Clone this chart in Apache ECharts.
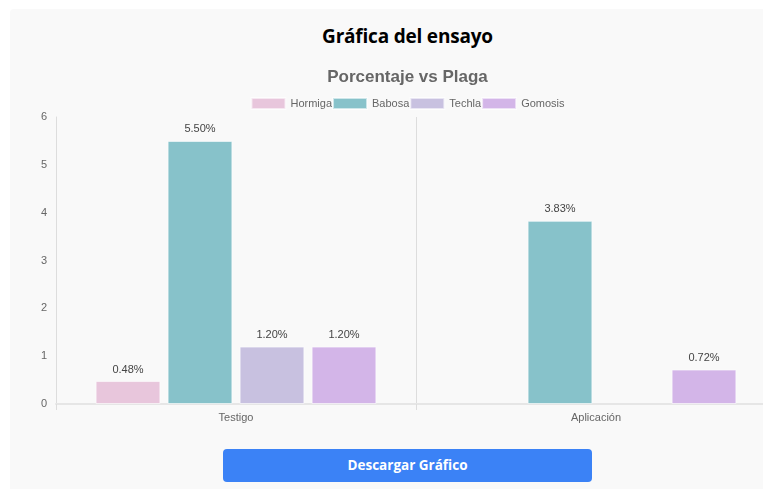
<!DOCTYPE html>
<html>
<head>
<meta charset="utf-8">
<script src="https://cdn.jsdelivr.net/npm/echarts@6/dist/echarts.min.js"></script>
<style>
  html, body { margin: 0; padding: 0; background: #ffffff; overflow: hidden; }
  body { width: 763px; height: 489px; position: relative; }
  .card {
    position: absolute; left: 10px; top: 9px; width: 795px; height: 520px;
    background: #f9f9f9; border-radius: 4px;
  }
  .card h2 {
    position: absolute; left: 0; right: 0; top: 14px; margin: 0;
    text-align: center; font-family: "Open Sans", "Noto Sans", sans-serif;
    font-weight: 700; font-size: 19px; color: #000; letter-spacing: -0.2px;
  }
  #chart { position: absolute; left: 0; top: 51px; width: 795px; height: 375px; }
  .btn {
    position: absolute; left: 213px; top: 440px; width: 369px; height: 33px;
    background: #3b82f6; border-radius: 4px; color: #fff; border: none;
    font-family: "Open Sans", "Noto Sans", sans-serif; font-weight: 700; font-size: 13.5px;
    line-height: 33px; text-align: center;
  }
</style>
</head>
<body>
<div class="card">
  <h2>Gráfica del ensayo</h2>
  <div id="chart"></div>
  <div class="btn">Descargar Gráfico</div>
</div>
<script>
// Ensayo: porcentaje de incidencia por plaga
const categories = ['Testigo', 'Aplicación'];
const plagas = ['Hormiga', 'Babosa', 'Techla', 'Gomosis'];
const hormiga = [0.48, null];
const babosa = [5.50, 3.83];
const techla = [1.20, null];
const gomosis = [1.20, 0.72];
const yTicks = [0, 1, 2, 3, 4, 5, 6];

const colores = ['#e8c6dc', '#87c2ca', '#c8c1e0', '#d3b5e8'];
const valores = [hormiga, babosa, techla, gomosis];

const chart = echarts.init(document.getElementById('chart'), null, { renderer: 'canvas' });

const series = plagas.map((name, i) => ({
  name,
  type: 'bar',
  data: valores[i],
  barWidth: 64.8,
  barGap: '11.11%',
  itemStyle: { color: colores[i], borderColor: 'rgba(255,255,255,0.6)', borderWidth: 1 },
  label: {
    show: true, position: 'top', distance: 6,
    formatter: p => p.value == null ? '' : Number(p.value).toFixed(2) + '%',
    fontFamily: 'Liberation Sans, Arial, sans-serif', fontSize: 11, color: '#444'
  }
}));

chart.setOption({
  animation: false,
  backgroundColor: 'transparent',
  title: {
    text: 'Porcentaje vs Plaga', left: 'center', top: 4,
    textStyle: { fontFamily: 'Liberation Sans, Arial, sans-serif', fontSize: 17, fontWeight: 'bold', color: '#666' }
  },
  legend: {
    data: plagas, top: 32, left: 'center',
    itemWidth: 34, itemHeight: 11, itemGap: 0,
    icon: 'rect',
    textStyle: { fontFamily: 'Liberation Sans, Arial, sans-serif', fontSize: 11, color: '#666', padding: [0, 0, 0, 0] }
  },
  grid: { left: 46, right: 29, top: 57, height: 287, containLabel: false },
  xAxis: {
    type: 'category', data: categories,
    axisLine: { show: true, lineStyle: { color: '#e6e6e6', width: 2 } },
    axisTick: { show: true, length: 6, lineStyle: { color: '#dddddd' } },
    splitLine: { show: true, lineStyle: { color: '#dddddd', width: 1 } },
    axisLabel: { color: '#666', fontFamily: 'Liberation Sans, Arial, sans-serif', fontSize: 11, margin: 8 }
  },
  yAxis: {
    type: 'value', min: yTicks[0], max: yTicks[yTicks.length - 1], interval: 1,
    axisLine: { show: true, lineStyle: { color: '#dddddd' } },
    axisTick: { show: false },
    splitLine: { show: false },
    axisLabel: { color: '#666', fontFamily: 'Liberation Sans, Arial, sans-serif', fontSize: 11, margin: 9 }
  },
  series
});
</script>
</body>
</html>
